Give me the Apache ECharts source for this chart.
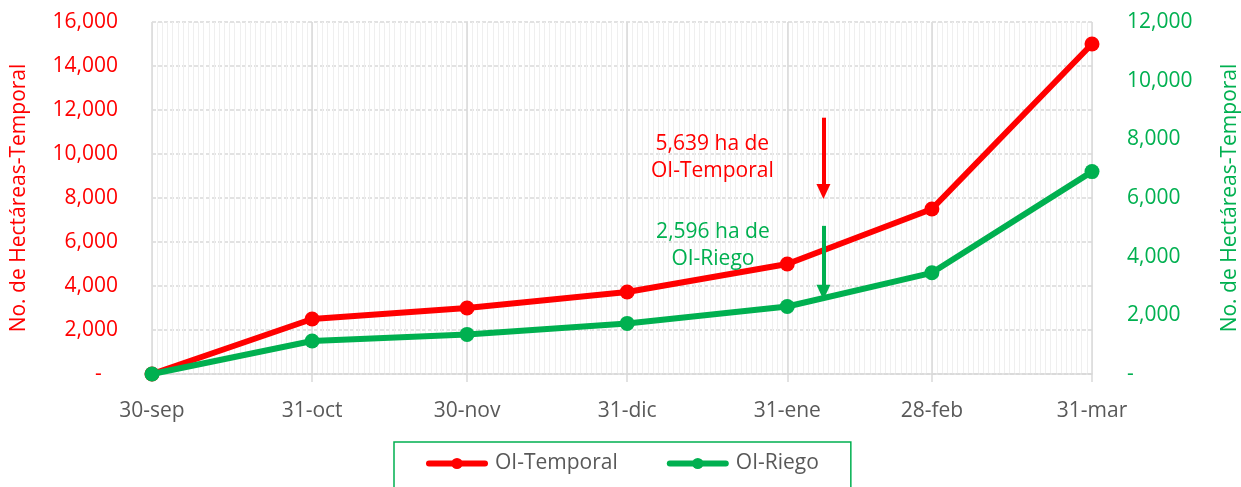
<!DOCTYPE html>
<html>
<head>
<meta charset="utf-8">
<script src="https://cdn.jsdelivr.net/npm/echarts@6/dist/echarts.min.js"></script>
<style>html,body{margin:0;padding:0;background:#fff;}#c{width:1241px;height:487px;}</style>
</head>
<body>
<div id="c"></div>
<script>
const dates = ['2022-09-30','2022-10-31','2022-11-30','2022-12-31','2023-01-31','2023-02-28','2023-03-31'];
const tickLabels = ['30-sep','31-oct','30-nov','31-dic','31-ene','28-feb','31-mar'];
const temporal = [0, 2500, 3000, 3725, 5000, 7500, 15000];
const riego = [0, 1125, 1350, 1725, 2300, 3450, 6900];
const seriesNames = ['OI-Temporal', 'OI-Riego'];
const annotationDate = '2023-02-07';
const annotationTexts = ['5,639 ha de\nOI-Temporal', '2,596 ha de\nOI-Riego'];

const DAY = 86400000;
const t0 = Date.parse(dates[0]);
const toDay = d => Math.round((Date.parse(d) - t0) / DAY);
const dayValues = dates.map(toDay);
const maxDay = dayValues[dayValues.length - 1];
const annDay = toDay(annotationDate);

const RED = '#ff0000', GREEN = '#00b050', GRAY = '#595959';
const FONT = 'Open Sans';
const fmt = v => v === 0 ? '-' : v.toLocaleString('en-US');

const chart = echarts.init(document.getElementById('c'), null, {renderer: 'canvas'});
chart.setOption({
  animation: false,
  textStyle: {fontFamily: FONT},
  grid: {left: 152, right: 149, top: 22, bottom: 113, containLabel: false, outerBoundsMode: 'none'},
  legend: {
    data: seriesNames,
    left: 394, top: 442,
    padding: [11, 32, 14, 32],
    itemGap: 49,
    itemWidth: 56, itemHeight: 14,
    borderColor: GREEN, borderWidth: 1.5,
    lineStyle: {width: 6, cap: 'round'},
    textStyle: {fontFamily: FONT, fontSize: 21, color: GRAY, padding: [0, 0, 0, 5]}
  },
  xAxis: [{
    type: 'value', min: 0, max: maxDay, interval: 1,
    axisLine: {show: true, lineStyle: {color: '#d9d9d9', width: 1.5}},
    axisTick: {show: false}, axisLabel: {show: false},
    splitLine: {show: true, lineStyle: {color: '#efefef', width: 1}}
  }, {
    type: 'value', min: 0, max: maxDay, position: 'bottom',
    axisLine: {show: false},
    axisTick: {show: true, customValues: dayValues, length: 8, lineStyle: {color: '#d9d9d9', width: 1.5}},
    axisLabel: {show: true, customValues: dayValues, margin: 27,
      formatter: v => tickLabels[dayValues.indexOf(Math.round(v))] || '',
      color: GRAY, fontSize: 21, fontFamily: FONT},
    splitLine: {show: true, lineStyle: {color: '#d9d9d9', width: 1.5}}
  }],
  yAxis: [{
    type: 'value', min: 0, max: 16000, interval: 2000, position: 'left',
    name: 'No. de Hectáreas-Temporal', nameLocation: 'middle', nameGap: 122, nameRotate: 90,
    nameTextStyle: {color: RED, fontSize: 21, fontFamily: FONT},
    axisLine: {show: false}, axisTick: {show: false},
    axisLabel: {color: RED, fontSize: 21, fontFamily: FONT, margin: 34,
      formatter: v => v === 0 ? '-   ' : fmt(v)},
    splitLine: {show: true, lineStyle: {color: '#d9d9d9', width: 1.5, type: [4, 2]}}
  }, {
    type: 'value', min: 0, max: 12000, interval: 2000, position: 'right',
    name: 'No. de Hectáreas-Temporal', nameLocation: 'middle', nameGap: 128, nameRotate: 90,
    nameTextStyle: {color: GREEN, fontSize: 21, fontFamily: FONT},
    axisLine: {show: false}, axisTick: {show: false},
    axisLabel: {color: GREEN, fontSize: 21, fontFamily: FONT, margin: 35, formatter: fmt},
    splitLine: {show: false}
  }],
  series: [{
    name: seriesNames[0], type: 'line', xAxisIndex: 0, yAxisIndex: 0,
    data: dayValues.map((d, i) => [d, temporal[i]]),
    symbol: 'circle', symbolSize: 15,
    lineStyle: {color: RED, width: 6}, itemStyle: {color: RED},
    z: 3,
    markLine: {
      silent: true, symbol: ['none', 'triangle'], symbolSize: [14, 15],
      label: {show: false},
      lineStyle: {color: RED, width: 4, type: 'solid'},
      data: [[{coord: [annDay, 11650]}, {coord: [annDay, 8300]}]]
    },
    markPoint: {
      silent: true, symbol: 'circle', symbolSize: 0,
      label: {show: true, formatter: annotationTexts[0], color: RED, fontSize: 21, lineHeight: 27, fontFamily: FONT, align: 'center'},
      data: [{coord: [108.5, 9840]}]
    }
  }, {
    name: seriesNames[1], type: 'line', xAxisIndex: 0, yAxisIndex: 1,
    data: dayValues.map((d, i) => [d, riego[i]]),
    symbol: 'circle', symbolSize: 15,
    lineStyle: {color: GREEN, width: 6}, itemStyle: {color: GREEN},
    z: 4,
    markLine: {
      silent: true, symbol: ['none', 'triangle'], symbolSize: [14, 15],
      label: {show: false},
      lineStyle: {color: GREEN, width: 4, type: 'solid'},
      data: [[{coord: [annDay, 5050]}, {coord: [annDay, 2790]}]]
    },
    markPoint: {
      silent: true, symbol: 'circle', symbolSize: 0,
      label: {show: true, formatter: annotationTexts[1], color: GREEN, fontSize: 21, lineHeight: 27, fontFamily: FONT, align: 'center'},
      data: [{coord: [108.6, 4380]}]
    }
  }]
});
</script>
</body>
</html>
